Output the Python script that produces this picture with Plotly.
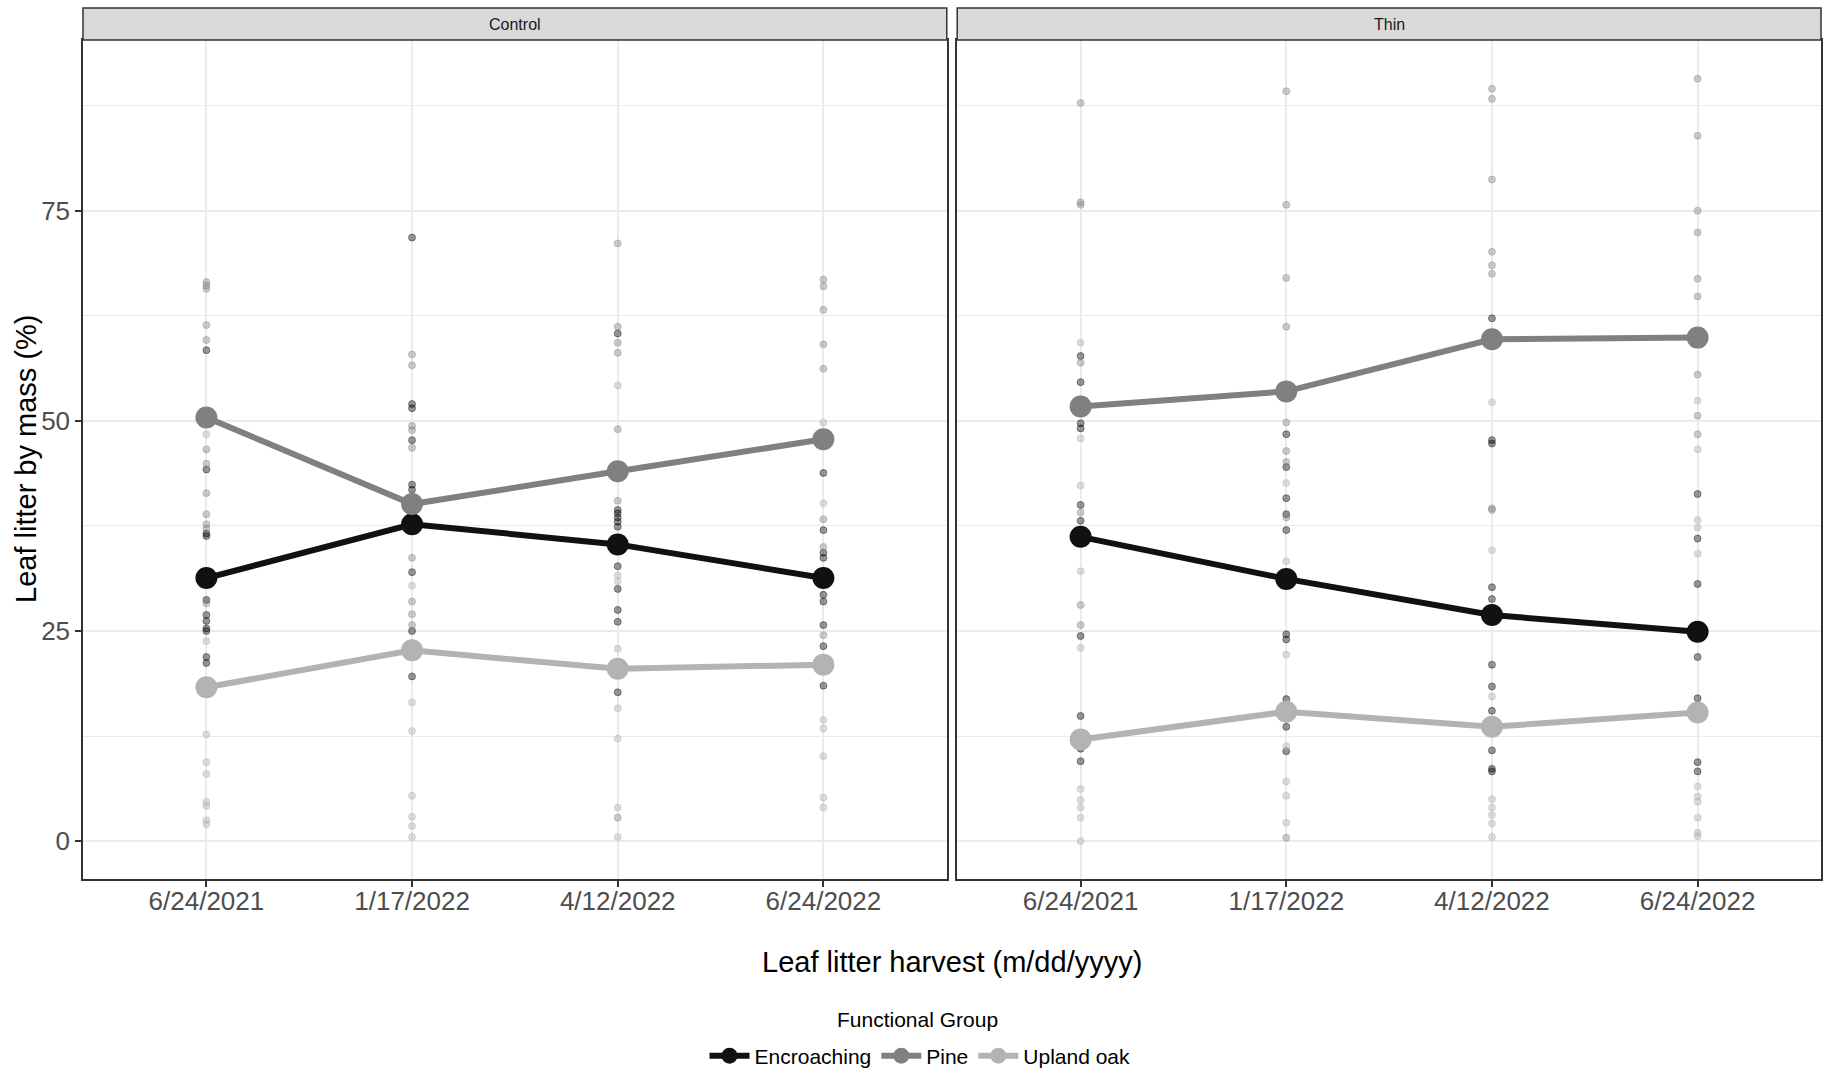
import plotly.graph_objects as go

# Harvest dates (discrete x categories) and functional groups
dates = ["6/24/2021", "1/17/2022", "4/12/2022", "6/24/2022"]
groups = ["Encroaching", "Pine", "Upland oak"]
panels = ["Control", "Thin"]

# Mean leaf litter by mass (%) per harvest date
control_mean_encroaching = [31.3, 37.7, 35.3, 31.3]
control_mean_pine = [50.4, 40.1, 44.0, 47.8]
control_mean_oak = [18.3, 22.7, 20.5, 21.0]
thin_mean_encroaching = [36.2, 31.2, 26.9, 24.9]
thin_mean_pine = [51.7, 53.5, 59.7, 59.9]
thin_mean_oak = [12.1, 15.4, 13.6, 15.3]

# Individual plot samples (%), one list per harvest date
control_encroaching = [
    [58.4, 44.2, 36.6, 36.3, 28.7, 26.9, 26.2, 25.3, 25.0, 21.9, 21.2],
    [71.8, 52.0, 51.5, 47.7, 42.4, 41.8, 32.0, 25.0, 19.6],
    [60.4, 39.4, 39.0, 38.5, 38.0, 37.4, 32.7, 30.0, 27.5, 26.1, 17.7],
    [43.8, 37.0, 34.3, 33.7, 29.3, 28.5, 25.7, 23.2, 18.5],
]
control_pine = [
    [66.5, 66.1, 65.7, 61.4, 59.6, 46.6, 44.9, 41.4, 38.9, 37.7, 37.2, 28.3],
    [57.9, 56.6, 49.4, 48.9, 46.8, 33.7, 28.5, 27.0, 25.7],
    [71.1, 61.2, 59.3, 58.1, 49.0, 40.5, 2.8],
    [66.8, 66.0, 63.2, 59.1, 56.2, 38.3, 35.0, 24.5],
]
control_oak = [
    [48.4, 23.8, 12.7, 9.4, 8.0, 4.7, 4.2, 2.5, 2.0],
    [30.4, 16.5, 13.1, 5.4, 2.9, 1.8, 0.5],
    [54.2, 31.6, 30.9, 22.9, 15.8, 12.2, 4.0, 0.5],
    [49.8, 40.2, 14.4, 13.4, 10.1, 5.2, 4.0],
]
thin_encroaching = [
    [57.7, 54.6, 49.7, 49.1, 40.0, 38.1, 24.4, 14.9, 11.0, 9.5],
    [48.4, 44.5, 40.8, 38.9, 37.0, 24.6, 24.0, 16.9, 13.6, 10.7],
    [62.2, 47.7, 47.3, 30.2, 28.8, 21.0, 18.4, 15.5, 10.8, 8.6, 8.3],
    [41.3, 36.0, 30.6, 21.9, 17.0, 9.4, 8.3],
]
thin_pine = [
    [87.8, 76.0, 75.7, 56.9, 39.1, 28.1, 25.7],
    [89.2, 75.7, 67.0, 61.2, 49.8, 46.4, 45.1, 38.5, 0.4],
    [89.5, 88.3, 78.7, 70.1, 68.5, 67.5, 39.6, 39.4],
    [90.7, 83.9, 75.0, 72.4, 66.9, 64.8, 55.5, 50.6, 48.4],
]
thin_oak = [
    [59.3, 47.9, 42.3, 32.1, 23.0, 6.2, 4.9, 4.0, 2.8, 0.0],
    [42.6, 33.3, 22.2, 11.3, 7.1, 5.4, 2.2],
    [52.2, 34.6, 17.2, 5.0, 4.0, 3.1, 2.1, 0.5],
    [52.4, 46.6, 38.2, 37.3, 34.2, 6.5, 5.3, 4.7, 2.8, 1.0, 0.6],
]

line_colors = {"Encroaching": "#111111", "Pine": "#808080", "Upland oak": "#b3b3b3"}
point_colors = {
    "Encroaching": "rgba(0,0,0,0.4)",
    "Pine": "rgba(127,127,127,0.4)",
    "Upland oak": "rgba(179,179,179,0.45)",
}

samples = {
    "Control": {"Encroaching": control_encroaching, "Pine": control_pine, "Upland oak": control_oak},
    "Thin": {"Encroaching": thin_encroaching, "Pine": thin_pine, "Upland oak": thin_oak},
}
means = {
    "Control": {"Encroaching": control_mean_encroaching, "Pine": control_mean_pine,
                "Upland oak": control_mean_oak},
    "Thin": {"Encroaching": thin_mean_encroaching, "Pine": thin_mean_pine,
             "Upland oak": thin_mean_oak},
}

FONT = "Liberation Sans, Arial, sans-serif"
fig = go.Figure()

for i, panel in enumerate(panels):
    xa = "x" if i == 0 else "x2"
    ya = "y" if i == 0 else "y2"
    # raw samples (semi-transparent)
    for g in groups:
        xs, ys = [], []
        for d, vals in zip(dates, samples[panel][g]):
            xs += [d] * len(vals)
            ys += vals
        fig.add_trace(go.Scatter(
            x=xs, y=ys, mode="markers", xaxis=xa, yaxis=ya,
            marker=dict(size=7, color=point_colors[g],
                        line=dict(color=point_colors[g], width=1)),
            showlegend=False, hoverinfo="skip", legendgroup=g,
        ))
    # group means joined by lines
    for g in groups:
        fig.add_trace(go.Scatter(
            x=dates, y=means[panel][g], mode="lines+markers", xaxis=xa, yaxis=ya,
            name=g, legendgroup=g, showlegend=(i == 0),
            line=dict(color=line_colors[g], width=6),
            marker=dict(size=22, color=line_colors[g]),
        ))

axis_common = dict(
    showline=True, linecolor="#333333", linewidth=1.5, mirror=True,
    ticks="outside", ticklen=6, tickwidth=1.5, tickcolor="#333333",
    tickfont=dict(family=FONT, size=26, color="#4d4d4d"),
    showgrid=True, gridcolor="#ebebeb", gridwidth=1.8, zeroline=False,
)
xcommon = dict(axis_common, type="category", categoryorder="array",
               categoryarray=dates, range=[-0.6, 3.6], ticklabelstandoff=-8)
ycommon = dict(axis_common, range=[-4.5, 95.3], tickvals=[0, 25, 50, 75],
               minor=dict(tickvals=[12.5, 37.5, 62.5, 87.5], showgrid=True,
                          gridcolor="#ebebeb", gridwidth=1, ticks=""))

fig.update_layout(
    width=1828, height=1073,
    margin=dict(l=83, r=7, t=40, b=194, autoexpand=False),
    paper_bgcolor="white", plot_bgcolor="white",
    font=dict(family=FONT, color="#000000"),
    xaxis=dict(xcommon, domain=[0, 0.497], anchor="y"),
    xaxis2=dict(xcommon, domain=[0.503, 1], anchor="y2"),
    yaxis=dict(ycommon, anchor="x"),
    yaxis2=dict(ycommon, anchor="x2", showticklabels=False, ticks=""),
    legend=dict(
        orientation="h", x=0.4816, xanchor="center", y=-0.211, yanchor="middle",
        font=dict(family=FONT, size=21, color="#000000"),
        itemwidth=40, bgcolor="rgba(0,0,0,0)",
    ),
    showlegend=True,
)

# facet strips
strip_top = 1 + 32 / 839
for i, panel in enumerate(panels):
    xr = "x domain" if i == 0 else "x2 domain"
    fig.add_shape(type="rect", xref=xr, yref="paper", x0=0, x1=1, y0=1, y1=strip_top,
                  fillcolor="#d9d9d9", line=dict(color="#333333", width=1.5), layer="above")
    fig.add_annotation(text=panel, xref=xr, yref="paper", x=0.5, y=(1 + strip_top) / 2,
                       showarrow=False, xanchor="center", yanchor="middle",
                       font=dict(family=FONT, size=16, color="#1a1a1a"))

# legend title
fig.add_annotation(text="Functional Group", xref="paper", yref="paper",
                   x=0.480, y=-0.168, showarrow=False, xanchor="center", yanchor="middle",
                   font=dict(family=FONT, size=21, color="#000000"))

# axis titles
fig.add_annotation(text="Leaf litter harvest (m/dd/yyyy)", xref="paper", yref="paper",
                   x=0.5, y=-0.099, showarrow=False, xanchor="center", yanchor="middle",
                   font=dict(family=FONT, size=29, color="#000000"))
fig.add_annotation(text="Leaf litter by mass (%)", xref="paper", yref="paper",
                   x=-0.0328, y=0.5006, showarrow=False, xanchor="center", yanchor="middle",
                   textangle=-90, font=dict(family=FONT, size=29, color="#000000"))

fig.write_html("out.html")
